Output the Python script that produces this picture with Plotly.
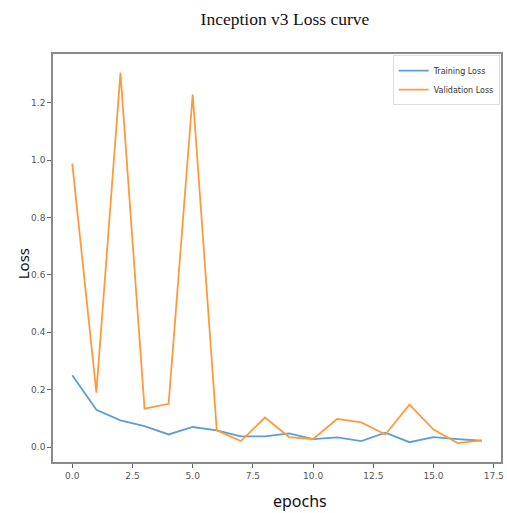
import plotly.graph_objects as go

epochs = list(range(18))
training_loss = [0.250, 0.130, 0.093, 0.073, 0.044, 0.070, 0.058, 0.037, 0.037,
                 0.048, 0.028, 0.034, 0.021, 0.050, 0.017, 0.035, 0.028, 0.022]
validation_loss = [0.988, 0.190, 1.305, 0.134, 0.151, 1.229, 0.058, 0.021, 0.103,
                   0.035, 0.028, 0.098, 0.086, 0.044, 0.148, 0.061, 0.014, 0.023]
x_ticks = [0.0, 2.5, 5.0, 7.5, 10.0, 12.5, 15.0, 17.5]
y_ticks = [0.0, 0.2, 0.4, 0.6, 0.8, 1.0, 1.2]

fig = go.Figure()
fig.add_trace(go.Scatter(x=epochs, y=training_loss, mode="lines", name="Training Loss",
                         line=dict(color="#5b9fd4", width=1.8)))
fig.add_trace(go.Scatter(x=epochs, y=validation_loss, mode="lines", name="Validation Loss",
                         line=dict(color="#ff9a3c", width=1.8)))

axis_common = dict(showgrid=False, zeroline=False, showline=True, mirror=True,
                   linecolor="#8a8a8a", linewidth=1.5, ticks="outside", ticklen=4,
                   tickcolor="#666666", tickfont=dict(family="DejaVu Sans", size=9, color="#555555"))

fig.update_layout(
    width=507, height=513,
    margin=dict(l=53, r=3, t=54, b=51),
    paper_bgcolor="white", plot_bgcolor="white",
    title=dict(text="Inception v3 Loss curve", x=0.562, xanchor="center", y=0.963, yanchor="middle",
               font=dict(family="Liberation Serif", size=17.5, color="#111111")),
    xaxis=dict(range=[-0.8, 17.8], tickvals=x_ticks, ticktext=[f"{v:.1f}" for v in x_ticks],
               **axis_common),
    yaxis=dict(range=[-0.052, 1.37], tickvals=y_ticks, ticktext=[f"{v:.1f}" for v in y_ticks],
               **axis_common),
    legend=dict(x=0.997, y=0.997, xanchor="right", yanchor="top",
                bgcolor="rgba(255,255,255,0.9)", bordercolor="#dddddd", borderwidth=1,
                font=dict(family="DejaVu Sans", size=8, color="#333333"),
                itemwidth=30, tracegroupgap=0),
    showlegend=True,
)

# Axis labels placed as annotations relative to the plot area
fig.add_annotation(text="epochs", xref="paper", yref="paper", x=0.552, y=-0.095,
                   xanchor="center", yanchor="middle", showarrow=False,
                   font=dict(family="Noto Sans", size=16, color="#111111"))
fig.add_annotation(text="Loss", xref="paper", yref="paper", x=-0.068, y=0.486,
                   xanchor="center", yanchor="middle", showarrow=False, textangle=-90,
                   font=dict(family="Noto Sans", size=15, color="#111111"))

fig.write_html("out.html")
